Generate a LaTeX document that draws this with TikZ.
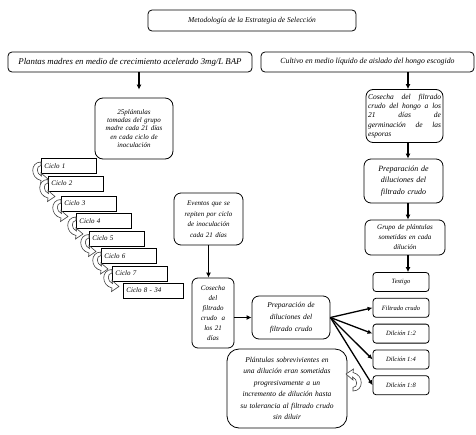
\documentclass[tikz,border=0pt]{standalone}
\usepackage{fontspec}
\setmainfont{Liberation Serif}[ItalicFont={Liberation Serif Italic}]
\usetikzlibrary{arrows.meta, positioning}

\newcommand{\fs}[2]{\itshape\fontsize{#1}{#2}\selectfont}

\begin{document}
\begin{tikzpicture}[x=1pt, y=-1pt,
  box/.style={draw, rounded corners=5pt, line width=0.8pt, align=center, inner sep=2pt},
  smallbox/.style={draw, rounded corners=3pt, line width=0.8pt, align=center, inner sep=1pt,
    minimum width=56pt, minimum height=19pt, font=\fs{6.5}{8}},
  ciclobox/.style={draw, line width=0.8pt, minimum height=15pt, inner ysep=0pt, inner xsep=3pt,
    font=\fs{7}{8}, align=left, anchor=west, text width=49pt},
  flow/.style={-{Latex[length=5pt, width=5pt]}, line width=1.4pt},
  fan/.style={-{Latex[length=5pt, width=4.5pt]}, line width=1.3pt},
  pics/turnarrow/.style={code={
    \draw[fill=white, draw=black!75, line width=0.6pt] (0,0) -- (0,3.5)
      .. controls (-5,3.5) and (-5,12) .. (0.5,14) -- (0,11) -- (7,17) -- (-0.5,22) -- (0,18.5)
      .. controls (-11,16) and (-11,0) .. cycle;
  }},
]
  \useasboundingbox (0,0) rectangle (476,434);

  % title and the two starting points
  \node[box, rounded corners=4pt, minimum width=208pt, minimum height=21pt, font=\fs{7.5}{9}] (title) at (252,20.5)
    {Metodología de la Estrategia de Selección};
  \node[box, rounded corners=4pt, minimum width=244pt, minimum height=20pt, font=\fs{8.8}{10}] (madres) at (130,62)
    {Plantas madres en medio de crecimiento acelerado 3mg/L BAP};
  \node[box, rounded corners=4pt, minimum width=213pt, minimum height=20pt, font=\fs{7.8}{9}] (cultivo) at (367.5,62)
    {Cultivo en medio líquido de aislado del hongo escogido};

  % left branch
  \node[box, rounded corners=8pt, text width=74pt, minimum height=61pt, font=\fs{7}{8.4}] (grupo25) at (134,128.5)
    {25plántulas\\ tomadas del grupo\\ madre cada 21 días\\ en cada ciclo de\\ inoculación};
  \node[ciclobox] (c1) at (41,166) {Ciclo 1};
  \node[ciclobox] (c2) at (48,183.5) {Ciclo 2};
  \node[ciclobox] (c3) at (61,203.5) {Ciclo 3};
  \node[ciclobox] (c4) at (76,221) {Ciclo 4};
  \node[ciclobox] (c5) at (89,238.5) {Ciclo 5};
  \node[ciclobox] (c6) at (101,256) {Ciclo 6};
  \node[ciclobox] (c7) at (112,273.5) {Ciclo 7};
  \node[ciclobox, text width=54pt] (c8) at (123,290.5) {Ciclo 8 - 34};
  \foreach \i in {1,...,7}
    \pic at ([yshift=4pt]c\i.west) {turnarrow};

  % events of every cycle
  \node[box, rounded corners=7pt, text width=65pt, minimum height=52pt, font=\fs{7}{10.5}] (eventos) at (208.5,219)
    {Eventos que se\\ repiten por ciclo\\ de inoculación\\ cada 21 días};
  \node[box, rounded corners=6pt, text width=38pt, minimum height=70pt, font=\fs{7}{10}] (cosechaA) at (213,313)
    {Cosecha\\ del\\ filtrado\\ crudo~~a\\ los 21\\ días};
  \node[box, rounded corners=7pt, text width=74pt, minimum height=43pt, font=\fs{7.5}{12}] (prepA) at (291,317.5)
    {Preparación de\\ diluciones del\\ filtrado crudo};
  \node[box, rounded corners=12pt, text width=116pt, minimum height=79pt, font=\fs{7.5}{11.5}] (sobrev) at (287,388.5)
    {Plántulas sobrevivientes en\\ una dilución eran sometidas\\ progresivamente a un\\ incremento de dilución hasta\\ su tolerancia al filtrado crudo\\ sin diluir};
  \pic[rotate=180] at (353,391) {turnarrow};

  % right branch
  \coordinate (axis) at (408,0);
  \node[box, rounded corners=7pt, text width=73pt, minimum height=53pt, align=left, font=\fs{7.5}{9.2}] (cosechaB) at (404.5,116)
    {Cosecha\hfill del\hfill filtrado\\ crudo\hfill del\hfill hongo\hfill a\hfill los\\ 21\hfill días\hfill de\\ germinación\hfill de\hfill las\\ esporas};
  \node[box, rounded corners=7pt, text width=75pt, minimum height=44pt, font=\fs{8}{11.5}] (prepB) at (403.5,181)
    {Preparación de\\ diluciones del\\ filtrado crudo};
  \node[box, rounded corners=6pt, text width=76pt, minimum height=35pt, font=\fs{7}{10}] (grupoD) at (405,237.5)
    {Grupo de plántulas\\ sometidas en cada\\ dilución};
  \node[smallbox] (testigo) at (401,282) {Testigo};
  \node[smallbox, below=6pt of testigo] (filtrado) {Filtrado crudo};
  \node[smallbox, below=6pt of filtrado] (d12) {Dilción 1:2};
  \node[smallbox, below=6pt of d12] (d14) {Dilción 1:4};
  \node[smallbox, below=6pt of d14] (d18) {Dilción 1:8};

  % connectors
  \draw[flow, shorten >=8pt] ([xshift=9pt]madres.south) -- ([xshift=5pt]grupo25.north);
  \draw[flow] (cultivo.south -| axis) -- (cosechaB.north -| axis);
  \draw[flow] (cosechaB.south -| axis) -- (prepB.north -| axis);
  \draw[flow] (prepB.south -| axis) -- (grupoD.north -| axis);
  \draw[flow] (grupoD.south -| axis) -- (testigo.north -| axis);
  \draw[flow] (eventos.south) -- (eventos.south |- cosechaA.north);
  \draw[flow] (cosechaA.east |- prepA.west) -- (prepA.west);
  \foreach \t in {filtrado, d12, d14, d18}
    \draw[fan] (prepA.east) -- (\t.west);
\end{tikzpicture}
\end{document}
